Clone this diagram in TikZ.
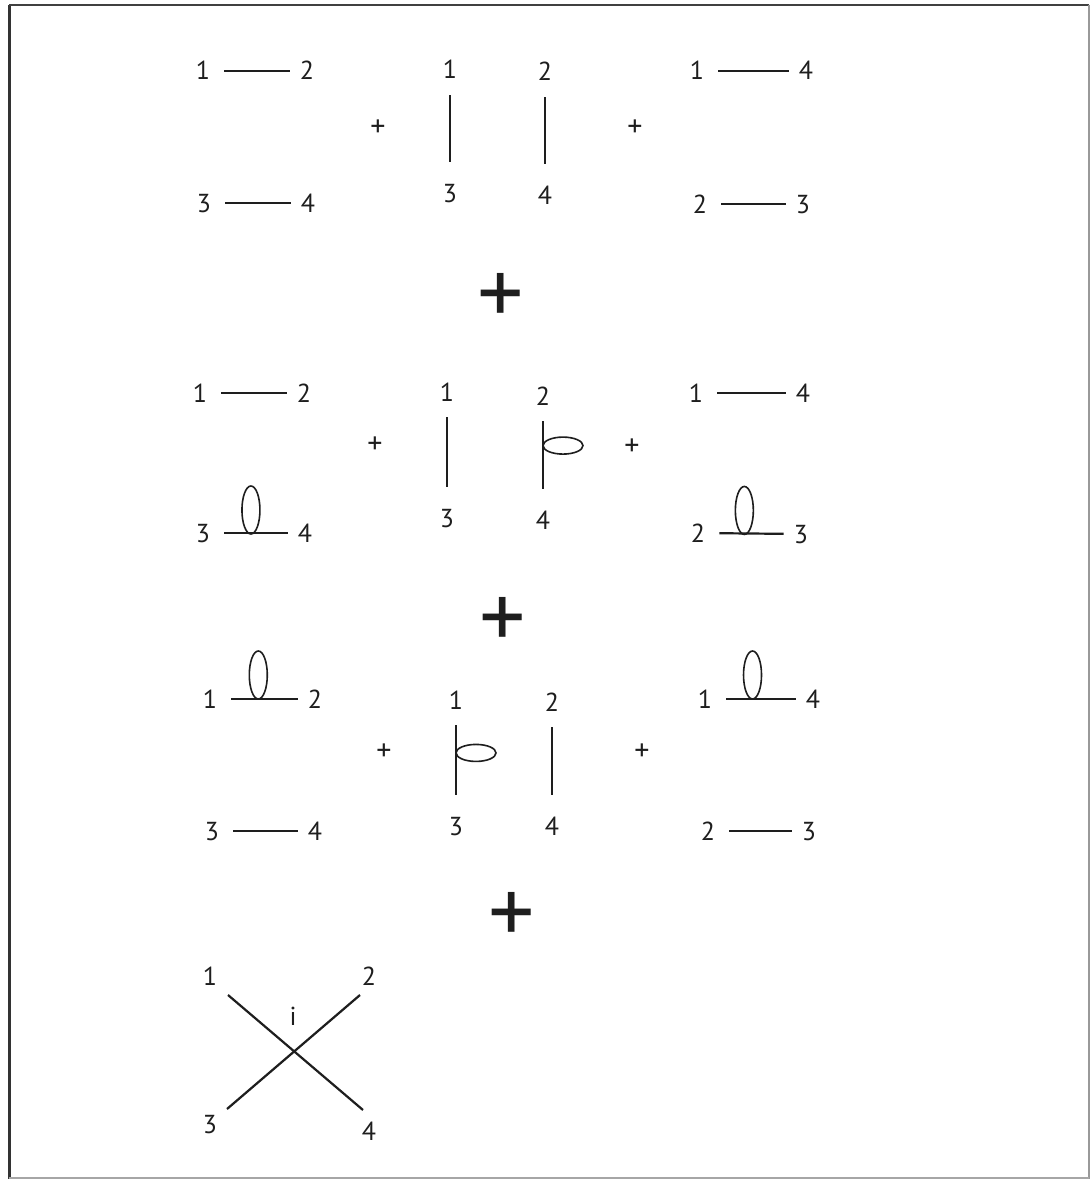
\documentclass[tikz,border=0pt]{standalone}
\usepackage{fontspec}
\setmainfont{PT Sans}
\usetikzlibrary{calc}
\definecolor{ink}{HTML}{1E1E1E}
\tikzset{
  lbl/.style={inner sep=0pt, text=ink, font=\fontsize{26}{26}\selectfont, text height=18pt, text depth=0pt},
  pl/.style={inner sep=0pt, text=ink, font=\fontsize{30}{30}\selectfont},
  bigpl/.style={inner sep=0pt, text=ink, font=\fontsize{92}{92}\selectfont},
  edge/.style={draw=ink, line width=2.2pt},
  hedge/.style={edge, shorten <=14pt, shorten >=10pt},
  vedge/.style={edge, shorten <=16pt, shorten >=22pt},
  loopl/.style={draw=ink, line width=1.6pt},
}
\begin{document}
\begin{tikzpicture}[x=1pt,y=-1pt]
\useasboundingbox (0,0) rectangle (1091,1180);
\fill[white] (0,0) rectangle (1091,1180);
% frame
\draw[line width=3pt, draw=black!80] (9,5) -- (9,1179);
\draw[line width=2.5pt, draw=black!75] (9,5) -- (1089,5);
\draw[line width=1.5pt, draw=black!40] (1089,5) -- (1089,1179);
\draw[line width=2pt, draw=black!35] (9,1178) -- (1089,1178);

% ---------- row 1 ----------
\node[lbl] (a11) at (203,71) {1};
\node[lbl] (a12) at (307,71) {2};
\node[lbl] (a13) at (204,203) {3};
\node[lbl] (a14) at (308,203) {4};
\draw[hedge] (a11) -- (a12);
\draw[hedge] (a13) -- (a14);
\node[pl] (p11) at (378,128) {+};
\node[lbl] (b11) at (450,70) {1};
\node[lbl] (b13) at (450,193) {3};
\node[lbl] (b12) at (545,72) {2};
\node[lbl] (b14) at (545,195) {4};
\draw[vedge] (b11) -- (b13);
\draw[vedge] (b12) -- (b14);
\node[pl] (p12) at (635,128) {+};
\node[lbl] (c11) at (697,71) {1};
\node[lbl] (c14) at (806,71) {4};
\node[lbl] (c12) at (700,204) {2};
\node[lbl] (c13) at (803,204) {3};
\draw[hedge] (c11) -- (c14);
\draw[hedge] (c12) -- (c13);

\node[bigpl] (P1) at (501,299) {+};

% ---------- row 2 ----------
\node[lbl] (a21) at (200,393) {1};
\node[lbl] (a22) at (304,393) {2};
\node[lbl] (a23) at (203,533) {3};
\node[lbl] (a24) at (305,533) {4};
\draw[hedge] (a21) -- (a22);
\draw[hedge] (a23) -- (a24);
\draw[loopl] ($(a23)!0.47!(a24)+(0,-23)$) ellipse [x radius=9pt, y radius=24pt];
\node[pl] (p21) at (375,445) {+};
\node[lbl] (b21) at (447,392) {1};
\node[lbl] (b23) at (447,518) {3};
\node[lbl] (b22) at (543,396) {2};
\node[lbl] (b24) at (543,520) {4};
\draw[vedge] (b21) -- (b23);
\draw[vedge] (b22) -- (b24);
\draw[loopl] ($(b22)!0.40!(b24)+(20,0)$) ellipse [x radius=20pt, y radius=8.5pt];
\node[pl] (p22) at (632,447) {+};
\node[lbl] (c21) at (696,393) {1};
\node[lbl] (c24) at (803,393) {4};
\node[lbl] (c22) at (698,533) {2};
\node[lbl] (c23) at (801,534) {3};
\draw[hedge] (c21) -- (c24);
\draw[hedge] (c22) -- (c23);
\draw[loopl] ($(c22)!0.45!(c23)+(0,-23)$) ellipse [x radius=9pt, y radius=24pt];

\node[bigpl] (P2) at (503,623) {+};

% ---------- row 3 ----------
\node[lbl] (a31) at (210,699) {1};
\node[lbl] (a32) at (315,699) {2};
\node[lbl] (a33) at (212,831) {3};
\node[lbl] (a34) at (315,831) {4};
\draw[hedge] (a31) -- (a32);
\draw[hedge] (a33) -- (a34);
\draw[loopl] ($(a31)!0.46!(a32)+(0,-24)$) ellipse [x radius=9pt, y radius=24pt];
\node[pl] (p31) at (384,752) {+};
\node[lbl] (b31) at (456,700) {1};
\node[lbl] (b33) at (456,826) {3};
\node[lbl] (b32) at (552,702) {2};
\node[lbl] (b34) at (552,826) {4};
\draw[vedge] (b31) -- (b33);
\draw[vedge] (b32) -- (b34);
\draw[loopl] ($(b31)!0.42!(b33)+(20,0)$) ellipse [x radius=20pt, y radius=8.5pt];
\node[pl] (p32) at (642,752) {+};
\node[lbl] (c31) at (705,699) {1};
\node[lbl] (c34) at (813,699) {4};
\node[lbl] (c32) at (708,831) {2};
\node[lbl] (c33) at (809,831) {3};
\draw[hedge] (c31) -- (c34);
\draw[hedge] (c32) -- (c33);
\draw[loopl] ($(c31)!0.44!(c34)+(0,-24)$) ellipse [x radius=9pt, y radius=24pt];

\node[bigpl] (P3) at (512,918) {+};

% ---------- row 4 ----------
\node[lbl] (d1) at (210,976) {1};
\node[lbl] (d2) at (369,976) {2};
\node[lbl] (d3) at (210,1124) {3};
\node[lbl] (d4) at (369,1131) {4};
\node[lbl] (di) at (293,1016) {i};
\draw[edge] ($(d1)+(18,19)$) -- ($(d4)+(-6,-21)$);
\draw[edge] ($(d2)+(-9,19)$) -- ($(d3)+(17,-15)$);
\end{tikzpicture}
\end{document}
